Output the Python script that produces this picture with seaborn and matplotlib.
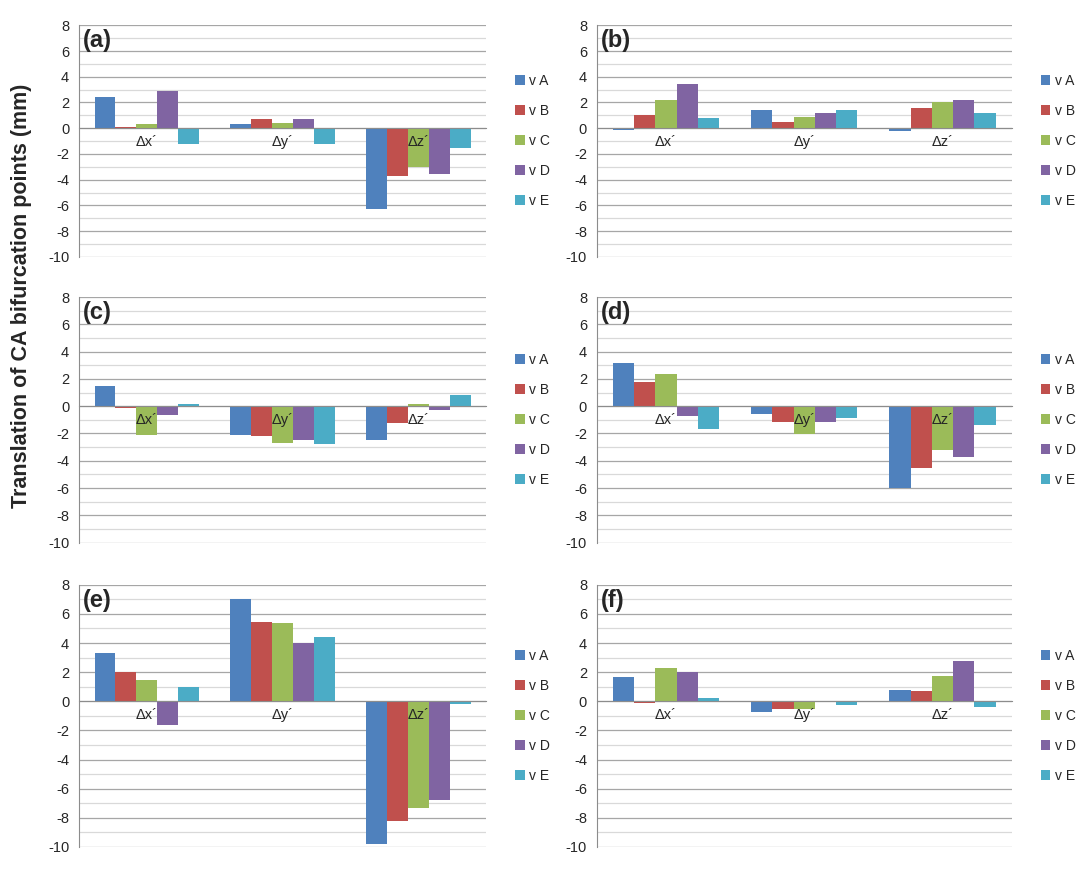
import pandas as pd
import seaborn as sns
from matplotlib import pyplot as plt
from matplotlib.ticker import MultipleLocator

sns.set_style("white")
plt.rcParams["font.family"] = ["Liberation Sans", "DejaVu Sans"]
plt.rcParams["axes.unicode_minus"] = False

categories = ["\u0394x\u00b4", "\u0394y\u00b4", "\u0394z\u00b4"]
series = ["v A", "v B", "v C", "v D", "v E"]
colors = ["#4F81BD", "#C0504D", "#9BBB59", "#8064A2", "#4BACC6"]

# one row per category, values for v A .. v E
panel_a = [[2.4, 0.1, 0.35, 2.9, -1.2],
           [0.3, 0.75, 0.4, 0.75, -1.2],
           [-6.3, -3.7, -3.0, -3.55, -1.5]]
panel_b = [[-0.1, 1.0, 2.2, 3.4, 0.8],
           [1.4, 0.5, 0.85, 1.2, 1.45],
           [-0.2, 1.55, 2.0, 2.2, 1.2]]
panel_c = [[1.45, -0.1, -2.1, -0.65, 0.15],
           [-2.1, -2.2, -2.7, -2.5, -2.8],
           [-2.5, -1.2, 0.15, -0.25, 0.8]]
panel_d = [[3.2, 1.75, 2.35, -0.7, -1.7],
           [-0.6, -1.15, -2.05, -1.15, -0.9],
           [-6.0, -4.5, -3.2, -3.7, -1.4]]
panel_e = [[3.3, 2.0, 1.45, -1.65, 1.0],
           [7.0, 5.45, 5.4, 4.0, 4.4],
           [-9.8, -8.2, -7.3, -6.8, -0.2]]
panel_f = [[1.7, -0.1, 2.3, 2.0, 0.25],
           [-0.7, -0.55, -0.55, 0.0, -0.25],
           [0.8, 0.7, 1.75, 2.8, -0.4]]

panels = [("(a)", panel_a), ("(b)", panel_b), ("(c)", panel_c),
          ("(d)", panel_d), ("(e)", panel_e), ("(f)", panel_f)]

# axes rectangles in figure fractions
cols = [(0.0725, 0.374), (0.548, 0.381)]
rows = [(0.705, 0.266), (0.377, 0.282), (0.0276, 0.301)]

fig = plt.figure(figsize=(10.89, 8.71), dpi=100)

for i, (tag, values) in enumerate(panels):
    x0, w = cols[i % 2]
    y0, h = rows[i // 2]
    ax = fig.add_axes([x0, y0, w, h])

    df = pd.DataFrame(
        [(cat, s, values[ci][si]) for ci, cat in enumerate(categories)
         for si, s in enumerate(series)],
        columns=["axis", "series", "value"])

    sns.barplot(data=df, x="axis", y="value", hue="series", palette=colors,
                saturation=1, width=0.77, linewidth=0, ax=ax)

    ax.set_ylim(-10, 8)
    ax.set_xlim(-0.5, 2.5)
    ax.yaxis.set_major_locator(MultipleLocator(2))
    ax.yaxis.set_minor_locator(MultipleLocator(1))
    ax.set_axisbelow(True)
    ax.grid(axis="y", which="major", color="#a6a6a6", linewidth=0.9)
    ax.grid(axis="y", which="minor", color="#d9d9d9", linewidth=0.9)

    for side in ["top", "right"]:
        ax.spines[side].set_visible(False)
    ax.spines["left"].set_color("#8c8c8c")
    ax.spines["bottom"].set_color("#8c8c8c")
    ax.spines["bottom"].set_position(("data", 0))

    ax.set_xticks([0, 1, 2])
    ax.set_xticklabels([])
    ax.set_xticks([-0.5, 0.5, 1.5, 2.5], minor=True)
    ax.tick_params(axis="x", which="major", length=0)
    ax.tick_params(axis="x", which="minor", length=4, color="#8c8c8c",
                   direction="out")
    ax.tick_params(axis="y", which="major", length=4, color="#8c8c8c",
                   direction="out", labelsize=10.5, pad=3)
    ax.tick_params(axis="y", which="minor", length=0)
    ax.set_xlabel("")
    ax.set_ylabel("")

    for ci, cat in enumerate(categories):
        ax.annotate(cat, xy=(ci, 0), xytext=(0, -5),
                    textcoords="offset points", ha="center", va="top",
                    fontsize=10.5, zorder=5)

    ax.text(0.01, 0.985, tag, transform=ax.transAxes, ha="left", va="top",
            fontsize=17, fontweight="bold", zorder=6)

    handles, labels = ax.get_legend_handles_labels()
    ax.legend(handles, labels, loc="center left", bbox_to_anchor=(1.04, 0.5),
              frameon=False, fontsize=10, handlelength=0.7, handleheight=0.7,
              handletextpad=0.3, labelspacing=1.15)

fig.text(0.02, 0.66, "Translation of CA bifurcation points (mm)",
         rotation=90, ha="center", va="center", fontsize=15.5,
         fontweight="bold")

plt.savefig("out.png", dpi=100)
plt.close()
